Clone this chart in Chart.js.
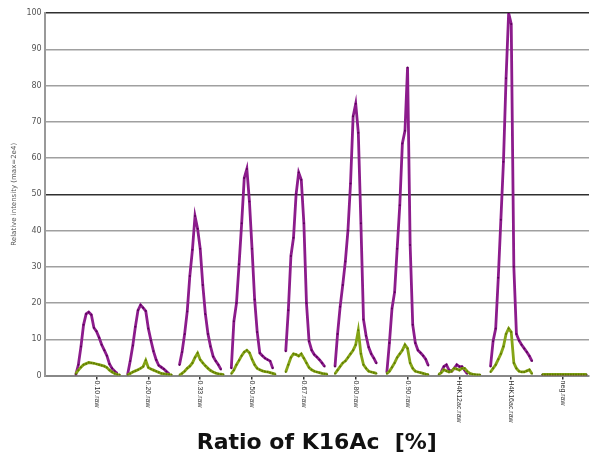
<!DOCTYPE html>
<html>
<head>
<meta charset="utf-8">
<script src="https://cdn.jsdelivr.net/npm/chart.js@4"></script>
<style>
  html, body { margin: 0; padding: 0; background: #fff; }
  #wrap { width: 596px; height: 459px; }
</style>
</head>
<body>
<div id="wrap"><canvas id="xic"></canvas></div>
<script>
// one chromatogram per raw file, laid side by side
const sampleNames = ['0.10.raw', '0.20.raw', '0.33.raw', '0.50.raw', '0.67.raw',
                     '0.80.raw', '0.90.raw', 'H4K12ac.raw', 'H4K16ac.raw', 'neg.raw'];

// scan positions inside each sample slot (slot width = 1)
const scanOffsets = [-0.45, -0.40, -0.35, -0.30, -0.25, -0.20, -0.15, -0.10, -0.05, 0,
                     0.05, 0.10, 0.15, 0.20, 0.25, 0.30, 0.35, 0.40, 0.45];

// purple trace, relative intensity per scan
const purpleIntensity = [
  [null, 0.2, 3, 8, 14, 17, 17.5, 16.8, 13.2, 12.2, 10.5, 8.5, 7, 5.5, 3.2, 2, 1.2, 0.6, null],
  [null, 0.3, 4, 8.3, 13.5, 18, 19.5, 18.7, 17.8, 13, 9.7, 6.7, 4.4, 2.8, 2.3, 1.8, 1.1, 0.5, null],
  [null, 2.9, 6.5, 11.5, 17.7, 27.5, 34.7, 44, 40.5, 35, 25, 17, 11.5, 8, 5.3, 4, 3, 1.7, null],
  [null, 2, 15, 20, 30.7, 42, 54.5, 57, 48, 35, 21, 12, 6.2, 5.5, 4.8, 4.4, 4, 2, null],
  [null, null, 6.7, 18, 33, 38, 50, 56, 54, 42, 20, 9.5, 7, 5.8, 5.1, 4.4, 3.5, 2.5, null],
  [null, 2.5, 11.5, 19, 25, 31.5, 40, 53, 71.5, 75, 67, 42, 15.5, 11, 7.8, 6, 4.8, 3.4, null],
  [null, 0.8, 9, 18.5, 23, 35, 47, 64, 67.5, 85, 36, 14, 9, 7, 6.3, 5.5, 4.5, 2.8, null],
  [null, null, 1, 2.5, 3, 1.5, 1.2, 2, 3, 2.5, 2.5, 1.5, 0.5, null, null, null, null, null, null],
  [null, 2.5, 9.5, 13, 27, 43, 59, 82, 100, 97, 30, 11.5, 9.7, 8.5, 7.5, 6.5, 5.4, 4, null],
  [null, 0.2, 0.2, 0.2, 0.2, 0.2, 0.2, 0.2, 0.2, 0.2, 0.2, 0.2, 0.2, 0.2, 0.2, 0.2, 0.2, 0.2, 0.2]
];

// green trace, relative intensity per scan
const greenIntensity = [
  [null, 0.5, 1.5, 2.3, 3, 3.3, 3.6, 3.5, 3.4, 3.2, 3, 2.8, 2.6, 2.2, 1.5, 1, 0.6, 0.3, 0.2],
  [null, 0.2, 0.6, 1, 1.3, 1.6, 2, 2.5, 4.2, 2.2, 1.8, 1.5, 1.2, 0.9, 0.6, 0.5, 0.4, 0.3, 0.2],
  [null, 0.1, 0.6, 1.2, 2, 2.6, 3.5, 5, 6.2, 4.4, 3.5, 2.7, 2, 1.4, 1, 0.7, 0.5, 0.4, 0.3],
  [null, 0.5, 1.5, 3, 4.2, 5.5, 6.5, 7, 6.3, 4.5, 3, 2, 1.6, 1.3, 1.1, 1, 0.8, 0.6, 0.4],
  [null, null, 1, 3, 5, 6, 5.8, 5.4, 6, 4.8, 3.5, 2.2, 1.6, 1.2, 1, 0.8, 0.6, 0.5, 0.4],
  [null, 0.5, 1.5, 2.5, 3.5, 4, 5, 6, 7, 8.5, 12.5, 6, 3, 2, 1.2, 1, 0.8, 0.6, null],
  [null, 0.5, 1.2, 2.3, 3.5, 5, 6, 7, 8.5, 7.5, 3.5, 2, 1.2, 1, 0.8, 0.6, 0.4, 0.3, null],
  [null, 0.3, 0.8, 1.6, 1.3, 1, 1.2, 2, 1.8, 1.5, 2, 2, 1.2, 0.6, 0.4, 0.3, 0.2, 0.2, null],
  [null, 1, 2, 3, 4.5, 6, 8, 11.5, 13, 12, 3.5, 2, 1.2, 1, 1, 1.3, 1.6, 0.5, null],
  [null, 0.3, 0.3, 0.3, 0.3, 0.3, 0.3, 0.3, 0.3, 0.3, 0.3, 0.3, 0.3, 0.3, 0.3, 0.3, 0.3, 0.3, 0.3]
];

// flatten the per-sample rows into x/y points, breaking the line between samples
function tracePoints(rows) {
  const pts = [];
  rows.forEach((row, i) => {
    row.forEach((v, j) => pts.push({ x: i + scanOffsets[j], y: v }));
    pts.push({ x: i + 0.5, y: null });
  });
  return pts;
}

// sample names under the axis, turned to read downwards
const rotatedTickLabels = {
  id: 'rotatedTickLabels',
  afterDraw(chart) {
    const { ctx, scales: { x } } = chart;
    ctx.save();
    ctx.font = '7px "Liberation Sans"';
    ctx.fillStyle = '#333';
    ctx.textAlign = 'left';
    ctx.textBaseline = 'middle';
    sampleNames.forEach((name, i) => {
      ctx.save();
      ctx.translate(x.getPixelForValue(i), x.top + 5);
      ctx.rotate(Math.PI / 2);
      ctx.fillText(name, 0, 0);
      ctx.restore();
    });
    ctx.restore();
  }
};

const ctx = document.getElementById('xic').getContext('2d');

new Chart(ctx, {
  type: 'line',
  data: {
    datasets: [{
      data: tracePoints(purpleIntensity),
      order: 1,
      borderColor: '#8c1c8c',
      borderWidth: 2.8,
      pointRadius: 1,
      pointBackgroundColor: '#5c005c',
      pointBorderWidth: 0,
      tension: 0
    }, {
      // green sits on top of purple
      data: tracePoints(greenIntensity),
      order: 0,
      borderColor: '#84a416',
      borderWidth: 2.8,
      pointRadius: 1,
      pointBackgroundColor: '#5f7a00',
      pointBorderWidth: 0,
      tension: 0
    }]
  },
  options: {
    responsive: true,
    maintainAspectRatio: false,
    animation: false,
    layout: { padding: { top: 13, right: 7, left: 5, bottom: 0 } },
    plugins: { legend: { display: false }, tooltip: { enabled: false } },
    scales: {
      x: {
        type: 'linear',
        min: -1,
        max: 9.5,
        afterBuildTicks: axis => { axis.ticks = sampleNames.map((_, i) => ({ value: i })); },
        ticks: { display: false },
        grid: { drawOnChartArea: false, drawTicks: true, tickLength: 4, color: '#333', lineWidth: 1.5 },
        border: { color: '#888', width: 2 },
        title: {
          display: true,
          text: 'Ratio of K16Ac  [%]',
          font: { family: 'DejaVu Sans', size: 22, weight: 'bold' },
          color: '#111',
          padding: { top: 50, bottom: 3 }
        }
      },
      y: {
        min: 0,
        max: 100,
        ticks: { stepSize: 10, font: { family: 'DejaVu Sans', size: 8 }, color: '#555', padding: 3 },
        grid: {
          drawTicks: false,
          lineWidth: 1.5,
          color: c => c.tick.value === 0 ? '#888' : (c.tick.value % 50 === 0 ? '#303030' : '#a0a0a0')
        },
        border: { color: '#999', width: 2 },
        title: {
          display: true,
          text: 'Relative intensity (max=2e4)',
          font: { family: 'DejaVu Sans', size: 7 },
          color: '#555',
          padding: { top: 5, bottom: 5 }
        }
      }
    }
  },
  plugins: [rotatedTickLabels]
});
</script>
</body>
</html>
